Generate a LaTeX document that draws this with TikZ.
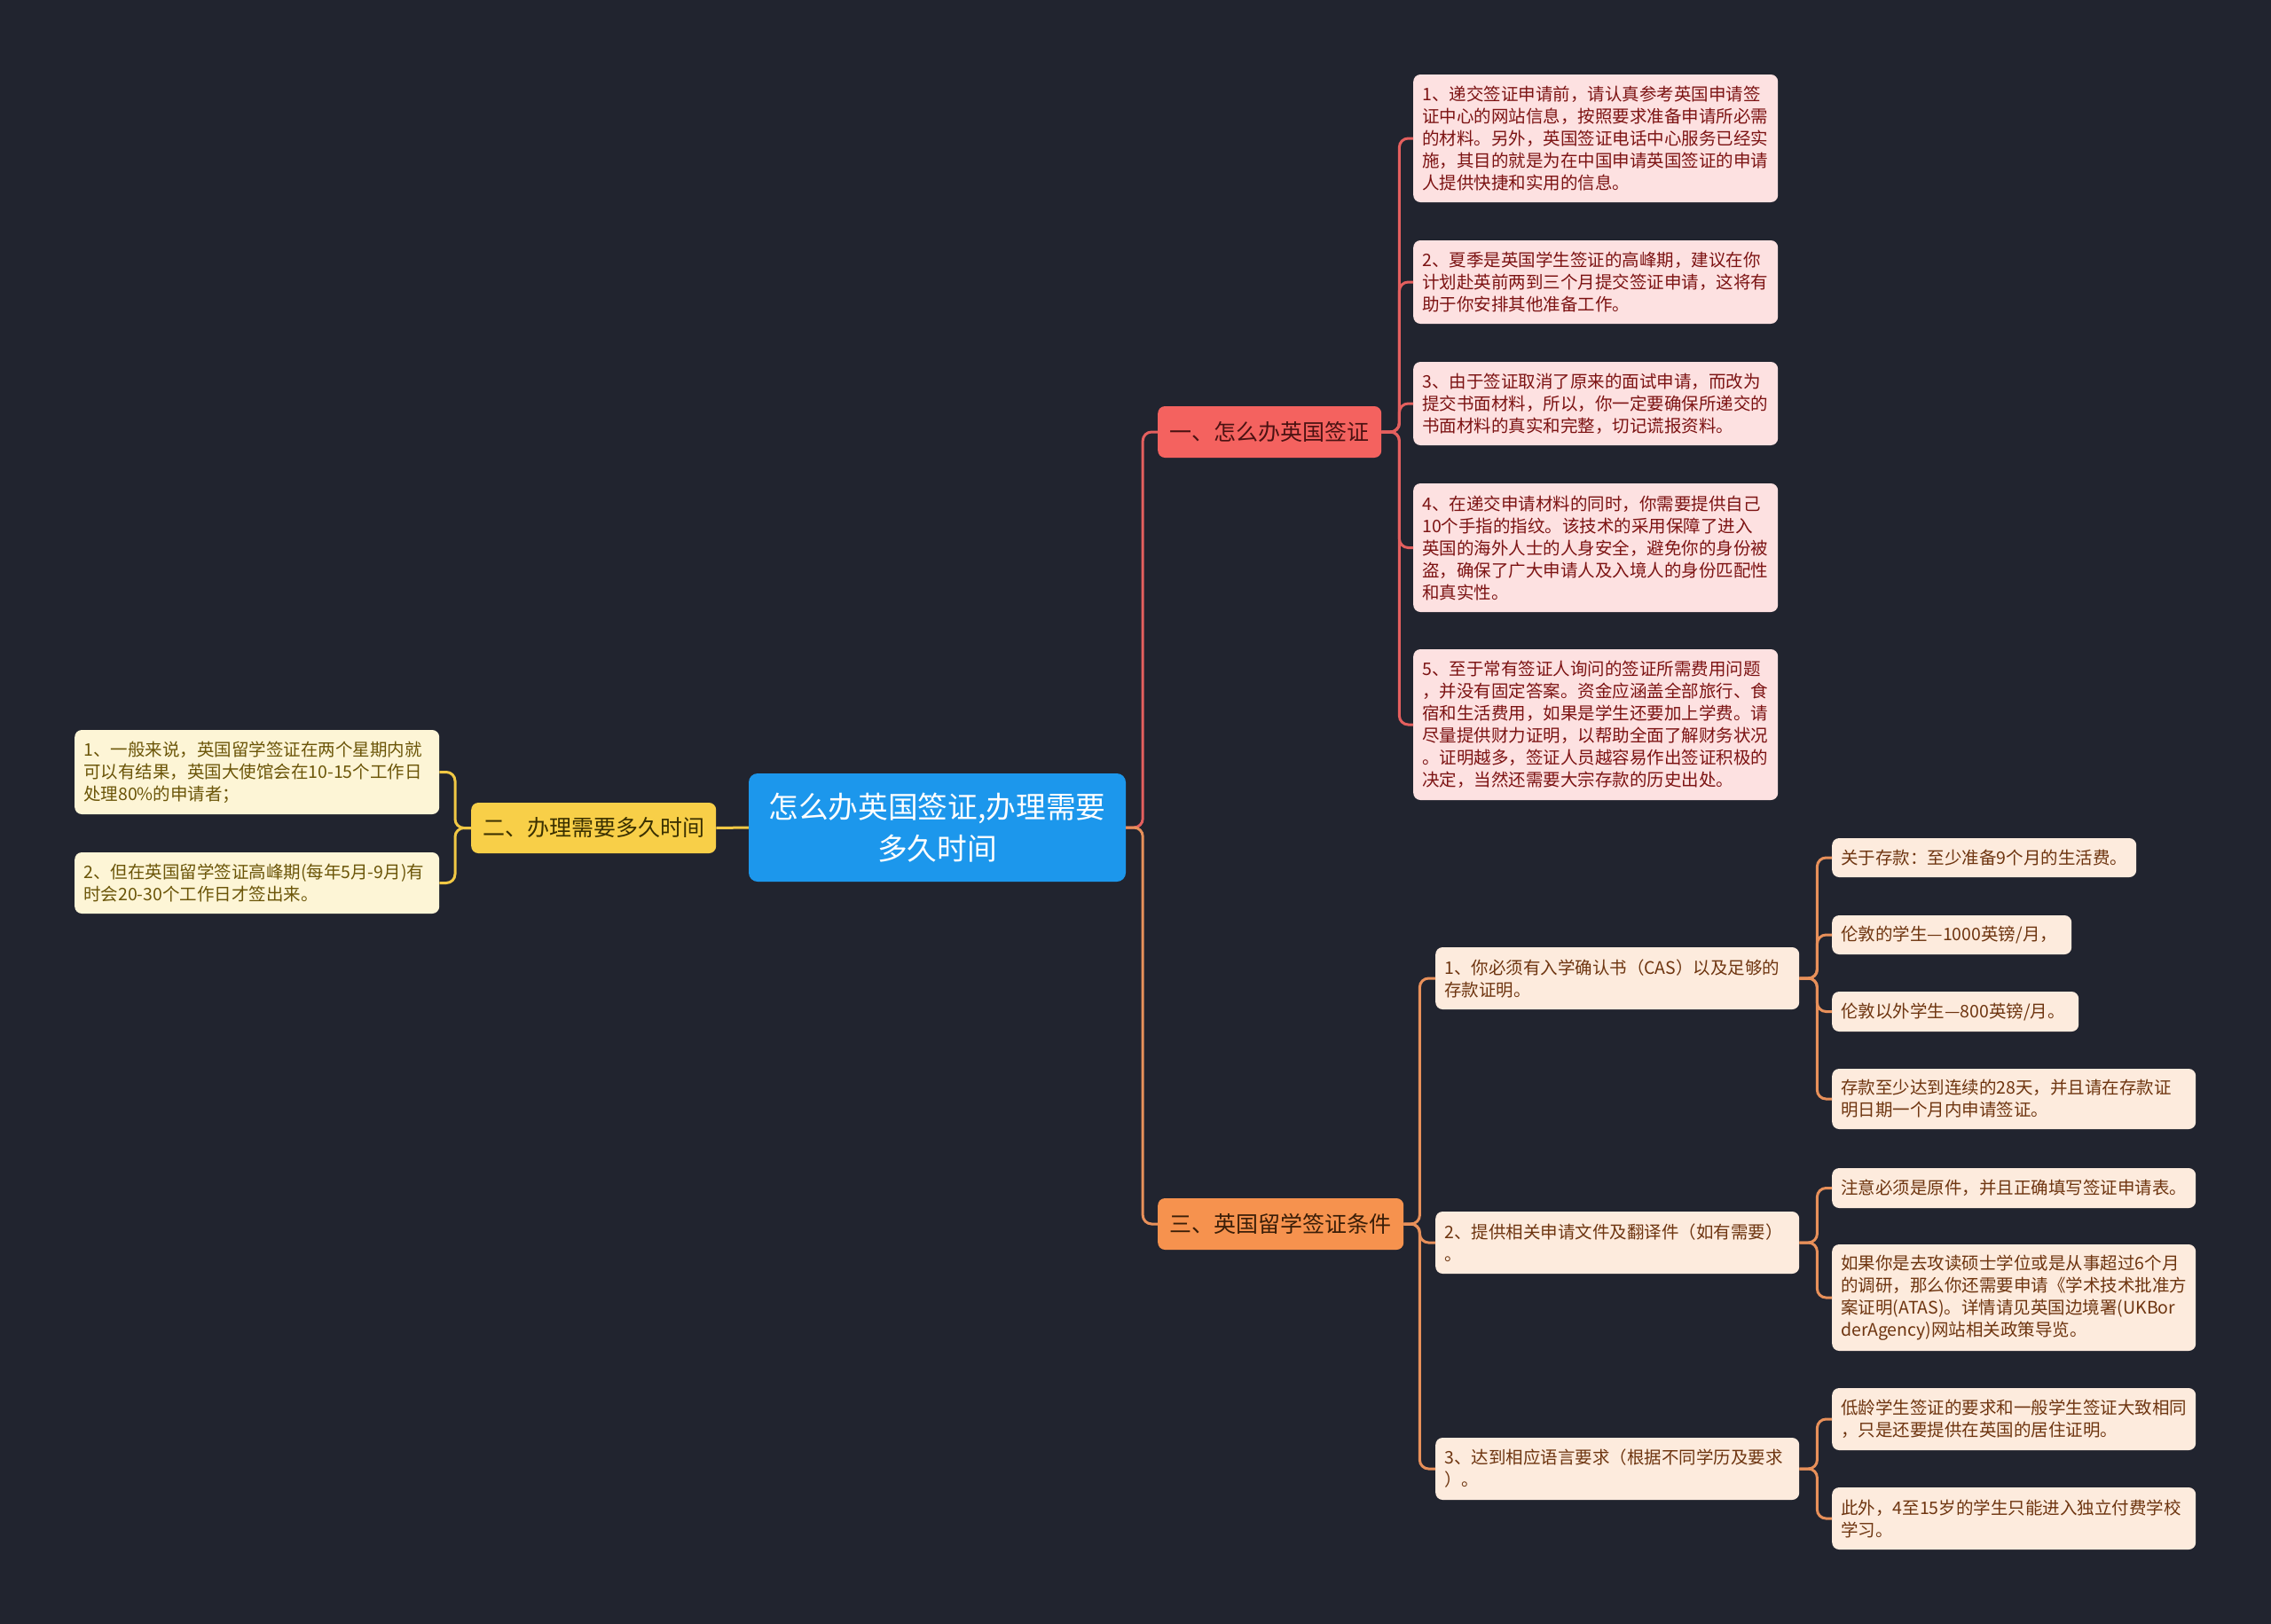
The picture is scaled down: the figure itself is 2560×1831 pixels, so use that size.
\documentclass[tikz,border=0pt]{standalone}
\usepackage{fontspec}
\setmainfont{Noto Sans CJK SC}
\definecolor{bg}{HTML}{21242F}
\definecolor{rootfill}{HTML}{1C97EC}
\definecolor{redfill}{HTML}{F4625F}
\definecolor{redline}{HTML}{E45F5E}
\definecolor{redtext}{HTML}{4A1212}
\definecolor{pinkfill}{HTML}{FDE1E1}
\definecolor{pinktext}{HTML}{7C1313}
\definecolor{yelfill}{HTML}{F8CF48}
\definecolor{yelline}{HTML}{F1C844}
\definecolor{yeltext}{HTML}{3A3000}
\definecolor{creamfill}{HTML}{FDF5D6}
\definecolor{creamtext}{HTML}{6B5508}
\definecolor{orfill}{HTML}{F6924E}
\definecolor{orline}{HTML}{E8905A}
\definecolor{ortext}{HTML}{3A1E08}
\definecolor{peachfill}{HTML}{FDEBDD}
\definecolor{peachtext}{HTML}{6E3510}
\begin{document}
\begin{tikzpicture}[x=1pt,y=-1pt,
  box/.style={rounded corners=8pt, inner xsep=10pt, inner ysep=0pt, anchor=west, align=left,
    font=\fontsize{19.5}{25}\selectfont},
  pinkleaf/.style={box, fill=pinkfill, text=pinktext, text width=391pt, minimum height=#1},
  creamleaf/.style={box, fill=creamfill, text=creamtext, text width=391pt, minimum height=#1},
  peachbox/.style={box, fill=peachfill, text=peachtext, minimum height=#1},
  lvl/.style={rounded corners=8pt, anchor=west, inner sep=0pt, align=center,
    font=\fontsize{25}{30}\selectfont, minimum height=58pt},
  conn/.style={line width=3pt, rounded corners=10pt}
]
\useasboundingbox (0,0) rectangle (2560,1831);
\fill[bg] (0,0) rectangle (2560,1831);

% root
\node[rounded corners=10pt, fill=rootfill, text=white, minimum width=425pt, minimum height=122pt,
  text width=405pt, align=center, inner sep=0pt, font=\fontsize{33.7}{47}\selectfont]
  (root) at (1056.5,933) {怎么办英国签证,办理需要\\多久时间};

% level 1
\node[lvl, fill=redfill, text=redtext, minimum width=252pt] (L1) at (1305,487) {一、怎么办英国签证};
\node[lvl, fill=yelfill, text=yeltext, minimum width=276pt, minimum height=57pt] (L2) at (531,933.5) {二、办理需要多久时间};
\node[lvl, fill=orfill, text=ortext, minimum width=277pt] (L3) at (1305,1380) {三、英国留学签证条件};

% pink leaves
\node[pinkleaf=144pt] (p1) at (1593,156) {1、递交签证申请前，请认真参考英国申请签\\证中心的网站信息，按照要求准备申请所必需\\的材料。另外，英国签证电话中心服务已经实\\施，其目的就是为在中国申请英国签证的申请\\人提供快捷和实用的信息。};
\node[pinkleaf=94pt] (p2) at (1593,318) {2、夏季是英国学生签证的高峰期，建议在你\\计划赴英前两到三个月提交签证申请，这将有\\助于你安排其他准备工作。};
\node[pinkleaf=94pt] (p3) at (1593,455) {3、由于签证取消了原来的面试申请，而改为\\提交书面材料，所以，你一定要确保所递交的\\书面材料的真实和完整，切记谎报资料。};
\node[pinkleaf=145pt] (p4) at (1593,617.5) {4、在递交申请材料的同时，你需要提供自己\\10个手指的指纹。该技术的采用保障了进入\\英国的海外人士的人身安全，避免你的身份被\\盗，确保了广大申请人及入境人的身份匹配性\\和真实性。};
\node[pinkleaf=170pt] (p5) at (1593,817) {5、至于常有签证人询问的签证所需费用问题\\，并没有固定答案。资金应涵盖全部旅行、食\\宿和生活费用，如果是学生还要加上学费。请\\尽量提供财力证明，以帮助全面了解财务状况\\。证明越多，签证人员越容易作出签证积极的\\决定，当然还需要大宗存款的历史出处。};

% cream leaves
\node[creamleaf=95pt] (yA) at (84,870.5) {1、一般来说，英国留学签证在两个星期内就\\可以有结果，英国大使馆会在10-15个工作日\\处理80\%的申请者；};
\node[creamleaf=69pt] (yB) at (84,995.5) {2、但在英国留学签证高峰期(每年5月-9月)有\\时会20-30个工作日才签出来。};

% subs of 三
\node[peachbox=70pt, text width=390pt] (s1) at (1618,1103) {1、你必须有入学确认书（CAS）以及足够的\\存款证明。};
\node[peachbox=70pt, text width=390pt] (s2) at (1618,1401) {2、提供相关申请文件及翻译件（如有需要）\\。};
\node[peachbox=70pt, text width=390pt] (s3) at (1618,1656) {3、达到相应语言要求（根据不同学历及要求\\）。};

% sub leaves
\node[peachbox=44pt, text width=323pt] (a) at (2065,967) {关于存款：至少准备9个月的生活费。};
\node[peachbox=44pt, text width=250pt] (b) at (2065,1054) {伦敦的学生—1000英镑/月，};
\node[peachbox=45pt, text width=258pt] (c) at (2065,1140.5) {伦敦以外学生—800英镑/月。};
\node[peachbox=68pt, text width=390pt] (d) at (2065,1239) {存款至少达到连续的28天，并且请在存款证\\明日期一个月内申请签证。};
\node[peachbox=45pt, text width=390pt] (e) at (2065,1339.5) {注意必须是原件，并且正确填写签证申请表。};
\node[peachbox=120pt, text width=390pt] (f) at (2065,1463) {如果你是去攻读硕士学位或是从事超过6个月\\的调研，那么你还需要申请《学术技术批准方\\案证明(ATAS)。详情请见英国边境署(UKBor\\derAgency)网站相关政策导览。};
\node[peachbox=70pt, text width=390pt] (g) at (2065,1600) {低龄学生签证的要求和一般学生签证大致相同\\，只是还要提供在英国的居住证明。};
\node[peachbox=70pt, text width=390pt] (h) at (2065,1712) {此外，4至15岁的学生只能进入独立付费学校\\学习。};

% connectors
\draw[conn, redline] (root.east) -- ++(19,0) |- (L1.west);
\draw[conn, orline] (root.east) -- ++(19,0) |- (L3.west);
\draw[conn, yelline] (root.west) -- (L2.east);
\foreach \n in {p1,p2,p3,p4,p5}
  \draw[conn, redline] (L1.east) -- ++(20,0) |- (\n.west);
\foreach \n in {yA,yB}
  \draw[conn, yelline] (L2.west) -- ++(-18,0) |- (\n.east);
\foreach \n in {s1,s2,s3}
  \draw[conn, orline] (L3.east) -- ++(18,0) |- (\n.west);
\foreach \n in {a,b,c,d}
  \draw[conn, orline] (s1.east) -- ++(20,0) |- (\n.west);
\foreach \n in {e,f}
  \draw[conn, orline] (s2.east) -- ++(20,0) |- (\n.west);
\foreach \n in {g,h}
  \draw[conn, orline] (s3.east) -- ++(20,0) |- (\n.west);
\end{tikzpicture}
\end{document}
